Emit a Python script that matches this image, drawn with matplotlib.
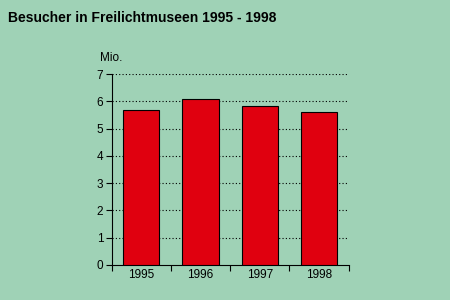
import matplotlib
matplotlib.use("Agg")
import matplotlib.pyplot as plt
import numpy as np

years = ["1995", "1996", "1997", "1998"]
visitors = [5.67, 6.07, 5.82, 5.59]
yticks = [0, 1, 2, 3, 4, 5, 6, 7]

bg = "#9fd2b6"
plt.rcParams['font.family'] = ['Liberation Sans', 'DejaVu Sans']

fig = plt.figure(figsize=(4.5, 3), dpi=100, facecolor=bg)
ax = fig.add_axes([0.248, 0.1167, 0.527, 0.6366])
ax.set_facecolor(bg)

x = np.arange(len(years))
ax.bar(x, visitors, width=0.61, color="#e0000f", edgecolor="black", linewidth=0.8, zorder=3)

ax.set_xlim(-0.5, len(years) - 0.5)
ax.set_ylim(0, 7)
ax.set_yticks(yticks)
ax.set_yticklabels([str(t) for t in yticks], fontsize=8.5)
for t in yticks[1:]:
    ax.axhline(t, color="black", linestyle=(0, (1, 2)), linewidth=0.8, zorder=1)

ax.set_xticks(x)
ax.set_xticklabels(years, fontsize=8.5)
ax.tick_params(axis="x", which="major", length=0, pad=3)
ax.set_xticks(np.arange(-0.5, len(years), 1.0), minor=True)
ax.tick_params(axis="x", which="minor", length=4, width=0.8, direction="out")
ax.tick_params(axis="y", length=4, width=0.8, pad=2)

for s in ["top", "right"]:
    ax.spines[s].set_visible(False)
for s in ["left", "bottom"]:
    ax.spines[s].set_linewidth(0.8)

fig.text(0.018, 0.94, "Besucher in Freilichtmuseen 1995 - 1998", fontsize=10, fontweight="bold", va="center", ha="left")
fig.text(0.222, 0.807, "Mio.", fontsize=8.5, va="center", ha="left")

fig.savefig("out.png", dpi=100, facecolor=bg)
